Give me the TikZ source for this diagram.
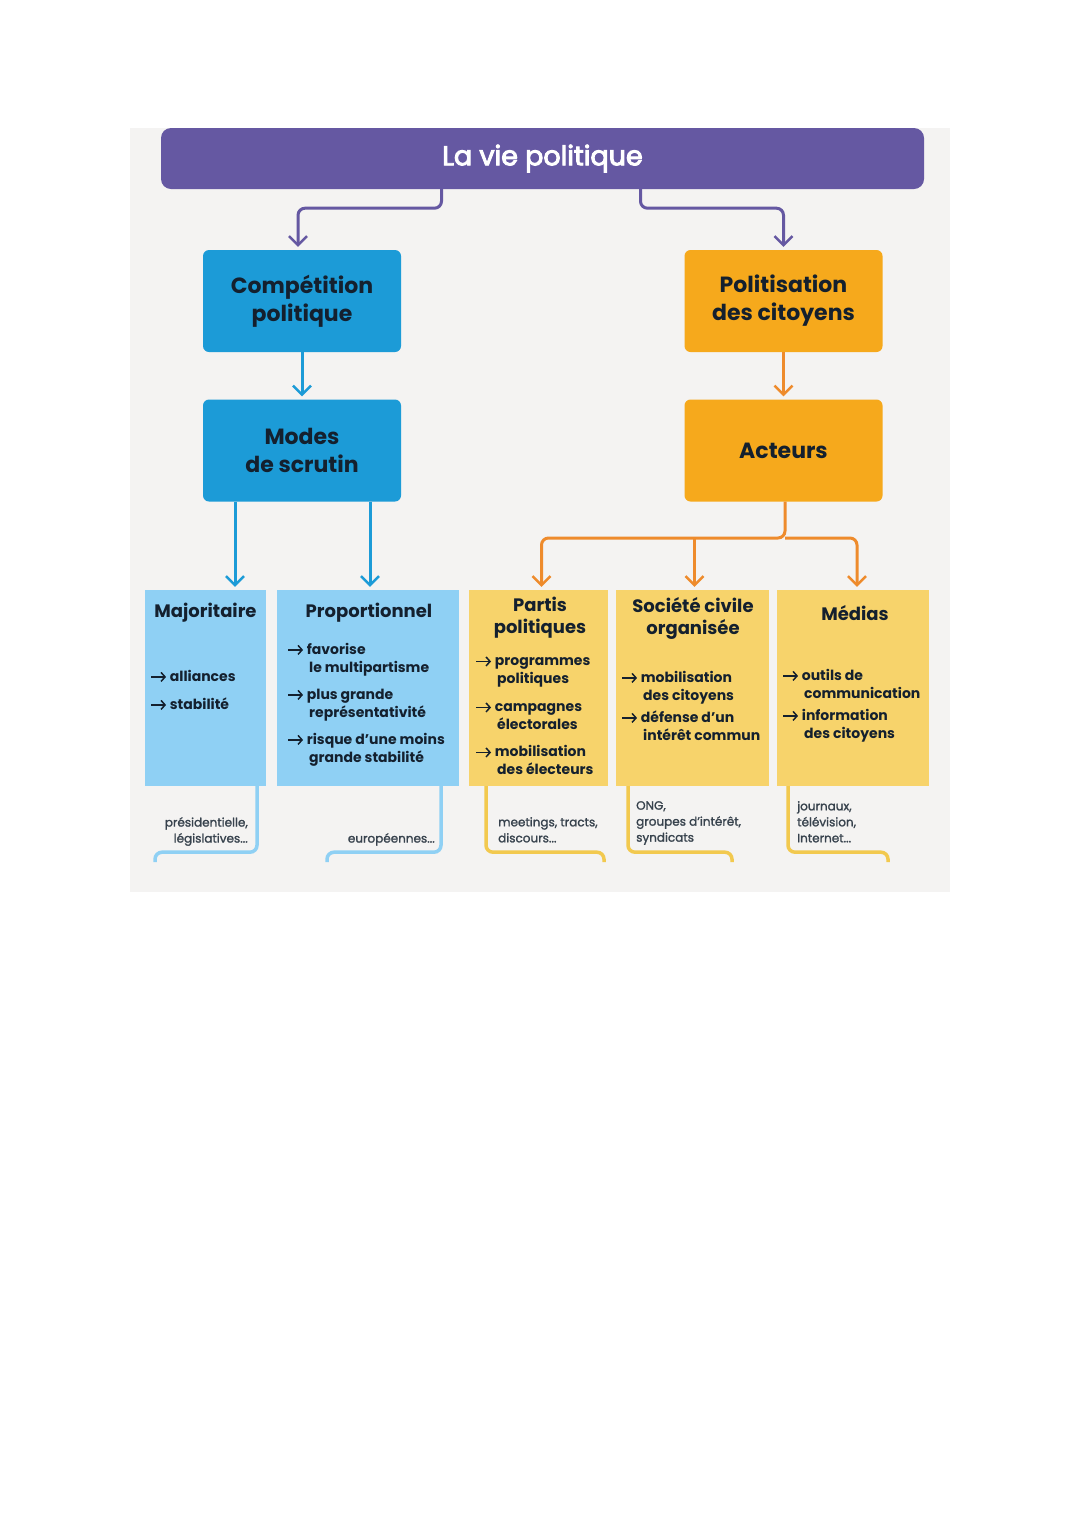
\documentclass[tikz,border=0pt]{standalone}
\usepackage{fontspec}
\setmainfont{Poppins}
\newfontfamily\demi{Poppins}[FakeBold=3.5]
\newfontfamily\leger{Poppins}[FakeBold=1.5]
\usetikzlibrary{positioning, arrows.meta}
\definecolor{fond}{HTML}{F4F3F2}
\definecolor{violet}{HTML}{6558A2}
\definecolor{bleu}{HTML}{1C9BD7}
\definecolor{bleuclair}{HTML}{8FD0F4}
\definecolor{orange}{HTML}{F6A91C}
\definecolor{orangefil}{HTML}{EE8B2C}
\definecolor{jaune}{HTML}{F7D36B}
\definecolor{jaunefil}{HTML}{F2C94F}
\definecolor{encre}{HTML}{14202E}
\tikzset{
  x=1pt, y=-1pt,
  every node/.style={text=encre, inner sep=0pt},
  conn/.style={line width=3pt, rounded corners=7pt, shorten >=3pt,
    -{Straight Barb[length=9pt, width=18pt, line width=2.5pt]}},
  haut/.style={fill=violet, rounded corners=10pt, minimum width=763pt,
    minimum height=61pt, text=white, font=\demi\fontsize{27}{32}\selectfont},
  moyen/.style={rounded corners=6pt, minimum width=198pt, minimum height=102pt,
    align=center, font=\bfseries\fontsize{22}{28}\selectfont},
  bas/.style={minimum height=196pt},
  titre/.style={align=center, font=\bfseries\fontsize{18}{22}\selectfont},
  liste/.style={align=left, font=\bfseries\fontsize{14}{18}\selectfont},
  note/.style={text=encre!85, font=\leger\fontsize{12}{16}\selectfont},
  crochet/.style={line width=3.5pt, rounded corners=7pt},
}
\newcommand{\fl}{\tikz[baseline=-4.5pt]\draw[encre, line width=1.7pt,
  -{Straight Barb[length=4pt, width=9pt, line width=1.5pt]}] (0,0) -- (15,0);}
\newcommand{\rt}{\hspace*{22pt}}

\begin{document}
\begin{tikzpicture}
        \useasboundingbox (0,0) rectangle (1080,1527);
        \fill[fond] (130,128) rectangle (950,892);

        % niveaux superieurs
        \node[haut] (vie) at (542.5,158.5) {La vie politique};
        \node[moyen, fill=bleu] (comp) at (302,301) {Compétition\\politique};
        \node[moyen, fill=orange] (polit) at (783.5,301) {Politisation\\des citoyens};
        \node[moyen, fill=bleu] (modes) at (302,450.5) {Modes\\de scrutin};
        \node[moyen, fill=orange] (acteurs) at (783.5,450.5) {Acteurs};

        % boites du bas
        \node[bas, fill=bleuclair, minimum width=121pt] (maj) at (205.5,688) {};
        \node[bas, fill=bleuclair, minimum width=182pt] (prop) at (368,688) {};
        \node[bas, fill=jaune, minimum width=139pt] (partis) at (538.5,688) {};
        \node[bas, fill=jaune, minimum width=153pt] (soc) at (692.5,688) {};
        \node[bas, fill=jaune, minimum width=152pt] (med) at (853,688) {};

        % titres
        \node[titre] (majT) at (205.5,613) {Majoritaire};
        \node[titre] (propT) at (369,613) {Proportionnel};
        \node[titre] (partisT) at (540,618) {Partis\\politiques};
        \node[titre] (socT) at (693,618) {Société civile\\organisée};
        \node[titre] (medT) at (855,613) {Médias};

        % listes
        \node[liste, anchor=north west] (majL) at (150,670) {\fl{} alliances\\[10pt]\fl{} stabilité};
        \node[liste, anchor=north west] (propL) at (287,643) {\fl{} favorise\\
          \rt le multipartisme\\[9pt]\fl{} plus grande\\
          \rt représentativité\\[9pt]\fl{} risque d’une moins\\
          \rt grande stabilité};
        \node[liste, anchor=north west] (partisL) at (475,656) {\fl{} programmes\\
          \rt politiques\\[10pt]\fl{} campagnes\\
          \rt électorales\\[9pt]\fl{} mobilisation\\
          \rt des électeurs};
        \node[liste, anchor=north west] (socL) at (621,671) {\fl{} mobilisation\\
          \rt des citoyens\\[4pt]\fl{} défense d’un\\
          \rt intérêt commun};
        \node[liste, anchor=north west] (medL) at (782,669) {\fl{} outils de\\
          \rt communication\\[4pt]\fl{} information\\
          \rt des citoyens};

        % fleches
        \draw[conn, violet] ([xshift=-101pt]vie.south) -- ++(0,19) -| ([xshift=-4pt]comp.north);
        \draw[conn, violet] ([xshift=98pt]vie.south) -- ++(0,19) -| (polit.north);
        \draw[conn, bleu] (comp) -- (modes);
        \draw[conn, orangefil] (polit) -- (acteurs);
        \draw[conn, bleu] ([xshift=-67pt]modes.south) -- ([xshift=-67pt]modes.south |- maj.north);
        \draw[conn, bleu] ([xshift=68pt]modes.south) -- ([xshift=68pt]modes.south |- prop.north);
        \coordinate (fourche) at (785,538);
        \draw[conn, orangefil] (acteurs.south -| fourche) -- (fourche) -| ([xshift=3pt]partis.north);
        \draw[conn, orangefil] (fourche) -| ([xshift=4pt]med.north);
        \draw[conn, orangefil] ([xshift=2pt]fourche -| soc.north) -- ([xshift=2pt]soc.north);

        % exemples
        \draw[crochet, bleuclair] ([xshift=51.5pt]maj.south) |- ++(-102,66) -- ++(0,10);
        \draw[crochet, bleuclair] ([xshift=73pt]prop.south) |- ++(-114,66) -- ++(0,10);
        \draw[crochet, jaunefil] ([xshift=-52.5pt]partis.south) |- ++(118,66) -- ++(0,10);
        \draw[crochet, jaunefil] ([xshift=-64.5pt]soc.south) |- ++(104,66) -- ++(0,10);
        \draw[crochet, jaunefil] ([xshift=-65pt]med.south) |- ++(100,66) -- ++(0,10);
        \node[note, align=right, anchor=north east] (majN) at (248,817) {présidentielle,\\législatives...};
        \node[note, anchor=north east] (propN) at (435,833) {européennes...};
        \node[note, align=left, anchor=north west] (partisN) at (498,817) {meetings, tracts,\\discours...};
        \node[note, align=left, anchor=north west] (socN) at (636,801) {ONG,\\groupes d’intérêt,\\syndicats};
        \node[note, align=left, anchor=north west] (medN) at (797,801) {journaux,\\télévision,\\Internet...};
\end{tikzpicture}
\end{document}
